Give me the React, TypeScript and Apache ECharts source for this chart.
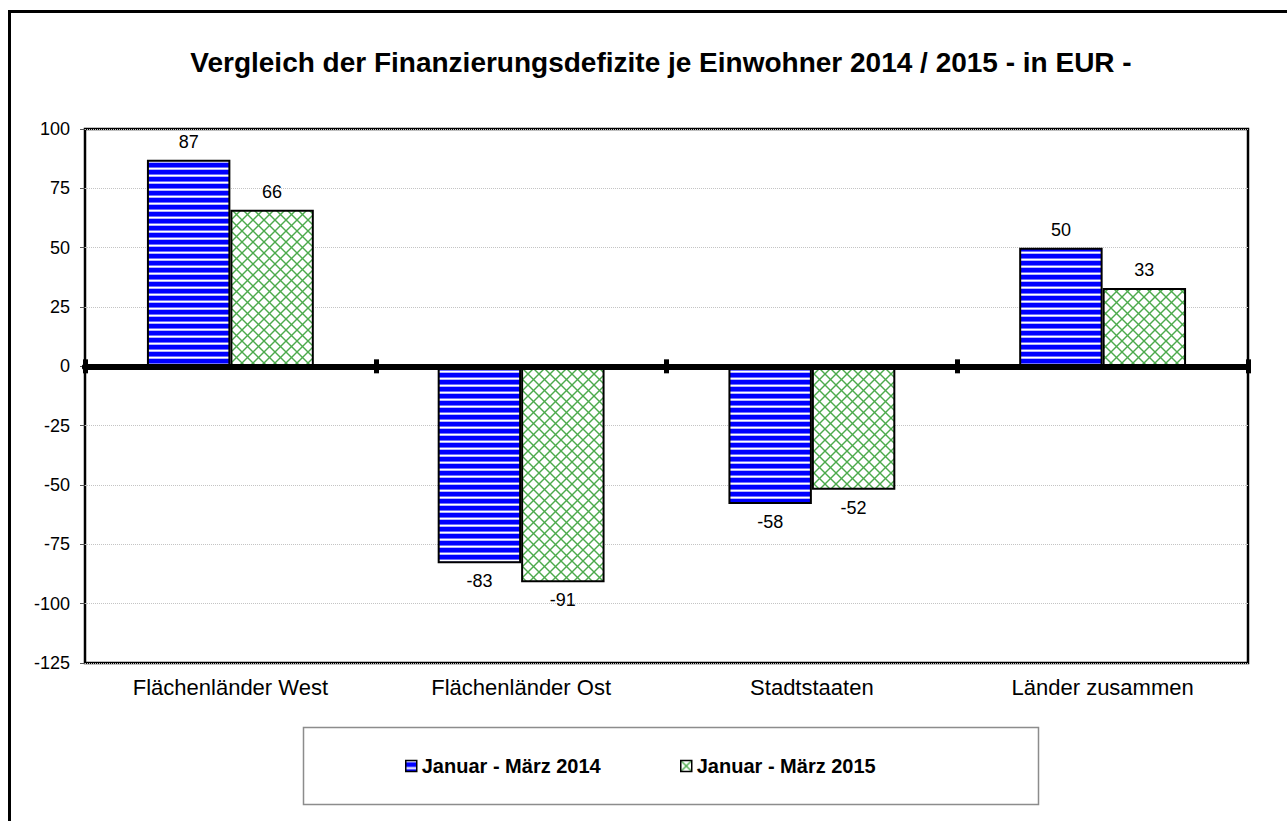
import React, { useEffect, useRef } from "react";
import * as echarts from "echarts";

const categories = ["Flächenländer West", "Flächenländer Ost", "Stadtstaaten", "Länder zusammen"];
const seriesNames = ["Januar - März 2014", "Januar - März 2015"];
const values2014 = [87, -83, -58, 50];
const values2015 = [66, -91, -52, 33];
const yMin = -125;
const yMax = 100;
const yInterval = 25;
const titleText = "Vergleich der Finanzierungsdefizite je Einwohner 2014 / 2015 - in EUR -";

const FONT = "'Liberation Sans', Arial, sans-serif";

function stripePattern() {
  const c = document.createElement("canvas");
  c.width = 8;
  c.height = 7;
  const ctx = c.getContext("2d")!;
  const rows = ["#ffffff", "#b3b3ff", "#0000ff", "#0000ff", "#0000ff", "#0000ff", "#7070ff"];
  rows.forEach((col, i) => {
    ctx.fillStyle = col;
    ctx.fillRect(0, i, 8, 1);
  });
  return { image: c.toDataURL(), repeat: "repeat", imageWidth: 8, imageHeight: 7 };
}

function crossPattern() {
  const n = 11;
  const c = document.createElement("canvas");
  c.width = n;
  c.height = n;
  const ctx = c.getContext("2d")!;
  ctx.fillStyle = "#ffffff";
  ctx.fillRect(0, 0, n, n);
  ctx.strokeStyle = "#4caa4c";
  ctx.lineWidth = 1.4;
  for (const dx of [-n, 0, n]) {
    ctx.beginPath();
    ctx.moveTo(dx, 0);
    ctx.lineTo(dx + n, n);
    ctx.stroke();
    ctx.beginPath();
    ctx.moveTo(dx + n, 0);
    ctx.lineTo(dx, n);
    ctx.stroke();
  }
  return { image: c.toDataURL(), repeat: "repeat", imageWidth: n, imageHeight: n };
}

const makeData = (vals: number[]) =>
  vals.map((v) => ({ value: v, label: { position: v < 0 ? "bottom" : "top" } }));

export default function App() {
  const ref = useRef<HTMLDivElement>(null);
  useEffect(() => {
    document.body.style.margin = "0";
    document.body.style.overflow = "hidden";
    if (!ref.current) return;
    const chart = echarts.init(ref.current, null, { renderer: "svg" });
    const blue = stripePattern();
    const green = crossPattern();
    const zeroAxisBase = {
      type: "category",
      data: categories,
      boundaryGap: true,
      axisLabel: { show: false },
      splitLine: { show: false },
      z: 5,
    };
    const legendBase = {
      top: 756,
      padding: 0,
      itemWidth: 11,
      itemHeight: 11,
      icon: "rect",
      itemStyle: { borderColor: "#000", borderWidth: 1.5 },
      textStyle: { fontFamily: FONT, fontSize: 20, fontWeight: "bold", color: "#000" },
    };
    chart.setOption({
      animation: false,
      backgroundColor: "#ffffff",
      textStyle: { fontFamily: FONT },
      title: {
        text: titleText,
        left: 661,
        top: 48,
        padding: 0,
        textAlign: "center",
        textStyle: { fontFamily: FONT, fontSize: 28, fontWeight: "bold", color: "#000" },
      },
      graphic: [
        {
          type: "rect",
          shape: { x: 9.5, y: 11.5, width: 1400, height: 900 },
          style: { fill: "none", stroke: "#000", lineWidth: 3 },
          z: -10,
        },
        {
          type: "rect",
          shape: { x: 303.5, y: 727.5, width: 735, height: 77 },
          style: { fill: "#fff", stroke: "#8c8c8c", lineWidth: 1.5 },
          z: -5,
        },
      ],
      legend: [
        { ...legendBase, data: [seriesNames[0]], left: 405 },
        { ...legendBase, data: [seriesNames[1]], left: 680 },
      ],
      grid: {
        left: 85,
        right: 39,
        top: 129,
        bottom: 158,
        show: true,
        borderColor: "#000",
        borderWidth: 2.5,
        backgroundColor: "transparent",
      },
      xAxis: [
        {
          ...zeroAxisBase,
          position: "bottom",
          axisLine: { show: true, onZero: true, onZeroAxisIndex: 0, lineStyle: { color: "#000", width: 6 } },
          axisTick: { show: true, length: 7, lineStyle: { color: "#000", width: 5 } },
        },
        {
          ...zeroAxisBase,
          position: "top",
          axisLine: { show: true, onZero: true, onZeroAxisIndex: 1, lineStyle: { color: "#000", width: 6 } },
          axisTick: { show: true, length: 7, lineStyle: { color: "#000", width: 5 } },
        },
        {
          type: "category",
          data: categories,
          position: "bottom",
          axisLine: { show: false, onZero: false },
          axisTick: { show: false },
          splitLine: { show: false },
          axisLabel: { fontFamily: FONT, fontSize: 22, color: "#000", margin: 13 },
        },
      ],
      yAxis: [
        {
          type: "value",
          min: yMin,
          max: yMax,
          interval: yInterval,
          axisLine: { show: false },
          axisTick: { show: true, length: 5, lineStyle: { color: "#555", width: 1 } },
          axisLabel: { fontFamily: FONT, fontSize: 18, color: "#000", margin: 15 },
          splitLine: { show: true, lineStyle: { color: "#c4c4c4", width: 1, type: "dotted" } },
        },
        {
          type: "value",
          min: yMin,
          max: yMax,
          interval: yInterval,
          show: false,
        },
      ],
      series: [
        {
          name: seriesNames[0],
          type: "bar",
          xAxisIndex: 0,
          yAxisIndex: 0,
          data: makeData(values2014),
          barGap: "0%",
          barCategoryGap: "42.6%",
          itemStyle: { color: blue, borderColor: "#000", borderWidth: 2 },
          label: { show: true, distance: 9, fontFamily: FONT, fontSize: 18, color: "#000" },
        },
        {
          name: seriesNames[1],
          type: "bar",
          xAxisIndex: 0,
          yAxisIndex: 0,
          data: makeData(values2015),
          barGap: "0%",
          barCategoryGap: "42.6%",
          itemStyle: { color: green, borderColor: "#000", borderWidth: 2 },
          label: { show: true, distance: 9, fontFamily: FONT, fontSize: 18, color: "#000" },
        },
      ],
    });
    return () => chart.dispose();
  }, []);
  return <div ref={ref} style={{ width: 1287, height: 821 }} />;
}
